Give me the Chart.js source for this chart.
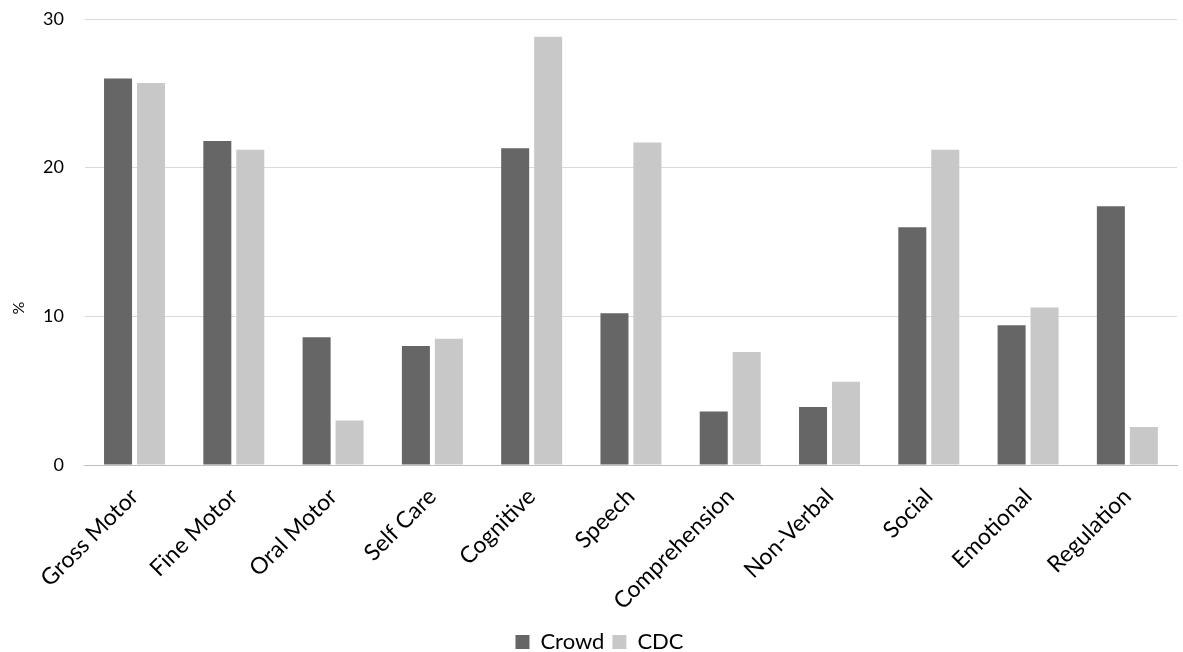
<!DOCTYPE html>
<html>
<head>
<meta charset="utf-8">
<script src="https://cdn.jsdelivr.net/npm/chart.js@4"></script>
<style>
  html, body { margin: 0; padding: 0; background: #fff; }
  #wrap { width: 1183px; height: 652px; }
</style>
</head>
<body>
<div id="wrap"><canvas id="myChart"></canvas></div>
<script>
const categories = ['Gross Motor', 'Fine Motor', 'Oral Motor', 'Self Care', 'Cognitive', 'Speech',
  'Comprehension', 'Non-Verbal', 'Social', 'Emotional', 'Regulation'];
const crowd = [26.0, 21.8, 8.6, 8.0, 21.3, 10.2, 3.6, 3.9, 16.0, 9.4, 17.4];
const cdc = [25.7, 21.2, 3.0, 8.5, 28.8, 21.7, 7.6, 5.6, 21.2, 10.6, 2.55];
const yTicks = [0, 10, 20, 30];

const FONT = 'Lato, "Open Sans", sans-serif';

// the "%" axis caption sits low on the left edge, so it is drawn by hand
const percentLabel = {
  id: 'percentLabel',
  afterDraw(chart) {
    const ctx = chart.ctx;
    ctx.save();
    ctx.translate(19, 308);
    ctx.rotate(-Math.PI / 2);
    ctx.font = '16px ' + FONT;
    ctx.fillStyle = '#000';
    ctx.textAlign = 'center';
    ctx.textBaseline = 'middle';
    ctx.fillText('%', 0, 0);
    ctx.restore();
  }
};

const config = {
  type: 'bar',
  data: {
    labels: categories,
    datasets: [
      { label: 'Crowd', data: crowd, backgroundColor: '#666666' },
      { label: 'CDC', data: cdc, backgroundColor: '#c8c8c8' }
    ]
  },
  options: {
    responsive: true,
    maintainAspectRatio: false,
    animation: false,
    categoryPercentage: 0.664,
    barPercentage: 0.85,
    layout: { padding: { top: 19, right: 6, left: 22, bottom: -11 } },
    plugins: {
      title: { display: false },
      tooltip: { enabled: false },
      legend: {
        position: 'bottom',
        labels: {
          color: '#000',
          boxWidth: 14,
          boxHeight: 14,
          padding: 8,
          font: { family: FONT, size: 22 }
        }
      }
    },
    scales: {
      x: {
        grid: { display: false, drawTicks: false },
        border: { color: '#bfbfbf', width: 1 },
        afterFit: (axis) => { axis.height = 158; },
        ticks: {
          color: '#000',
          maxRotation: 45,
          minRotation: 45,
          padding: 18,
          font: { family: FONT, size: 23 }
        }
      },
      y: {
        min: 0,
        max: 30,
        afterBuildTicks: (axis) => { axis.ticks = yTicks.map(v => ({ value: v })); },
        afterFit: (axis) => { axis.paddingTop = 0; axis.paddingBottom = 0; },
        grid: { color: '#d9d9d9', drawTicks: false },
        border: { display: false },
        ticks: {
          color: '#000',
          padding: 21,
          font: { family: FONT, size: 18 }
        }
      }
    }
  },
  plugins: [percentLabel]
};

const myChart = new Chart(document.getElementById('myChart'), config);
</script>
</body>
</html>
